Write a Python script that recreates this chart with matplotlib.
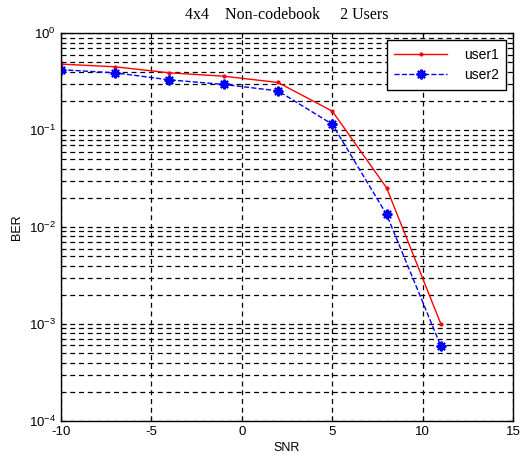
import numpy as np
import matplotlib
matplotlib.use("Agg")
import matplotlib.pyplot as plt
from matplotlib.ticker import LogLocator, NullFormatter

# BER versus SNR
snr = [-10, -7, -4, -1, 2, 5, 8, 11]
ber_user1 = [0.48, 0.45, 0.39, 0.36, 0.31, 0.157, 0.0254, 0.00100]
ber_user2 = [0.42, 0.39, 0.33, 0.296, 0.254, 0.115, 0.0135, 0.00059]

plt.rcParams['font.family'] = ['Liberation Sans', 'DejaVu Sans']
plt.rcParams['axes.unicode_minus'] = False

fig = plt.figure(figsize=(5.2, 4.61), dpi=100)
ax = fig.add_axes([0.117, 0.087, 0.870, 0.841])

ax.semilogy(snr, ber_user1, color='red', linestyle='-', marker='.', markersize=4,
            linewidth=1, label='user1')
ax.semilogy(snr, ber_user2, color='blue', linestyle='--', marker=(8, 2, 0), markersize=7,
            markeredgewidth=1.5, linewidth=1, label='user2')

ax.set_xlim(-10, 15)
ax.set_ylim(1e-4, 1)
ax.set_xticks([-10, -5, 0, 5, 10, 15])
ax.yaxis.set_major_locator(LogLocator(base=10, numticks=10))
ax.yaxis.set_minor_locator(LogLocator(base=10, subs=np.arange(2, 10), numticks=10))
ax.yaxis.set_minor_formatter(NullFormatter())

ax.grid(True, which='major', axis='x', color='black', linestyle=(0, (4, 3)), linewidth=0.9)
ax.grid(True, which='both', axis='y', color='black', linestyle=(0, (4, 3)), linewidth=0.9)
ax.tick_params(which='both', direction='in', top=True, right=True, labelsize=9.5)
ax.tick_params(which='minor', length=2)
for s in ax.spines.values():
    s.set_linewidth(1)

ax.set_xlabel('SNR', fontsize=9, labelpad=3)
ax.set_ylabel('BER', fontsize=9)
ax.set_title('4x4    Non-codebook     2 Users', fontsize=11.5, family='Liberation Serif', pad=10)

leg = ax.legend(loc='upper right', fontsize=10, fancybox=False, edgecolor='black',
                framealpha=1, handlelength=3.8, handletextpad=1.2, borderpad=0.55,
                labelspacing=0.45, borderaxespad=0.5)
leg.get_frame().set_linewidth(1)

fig.savefig('out.png', dpi=100, facecolor='white')
